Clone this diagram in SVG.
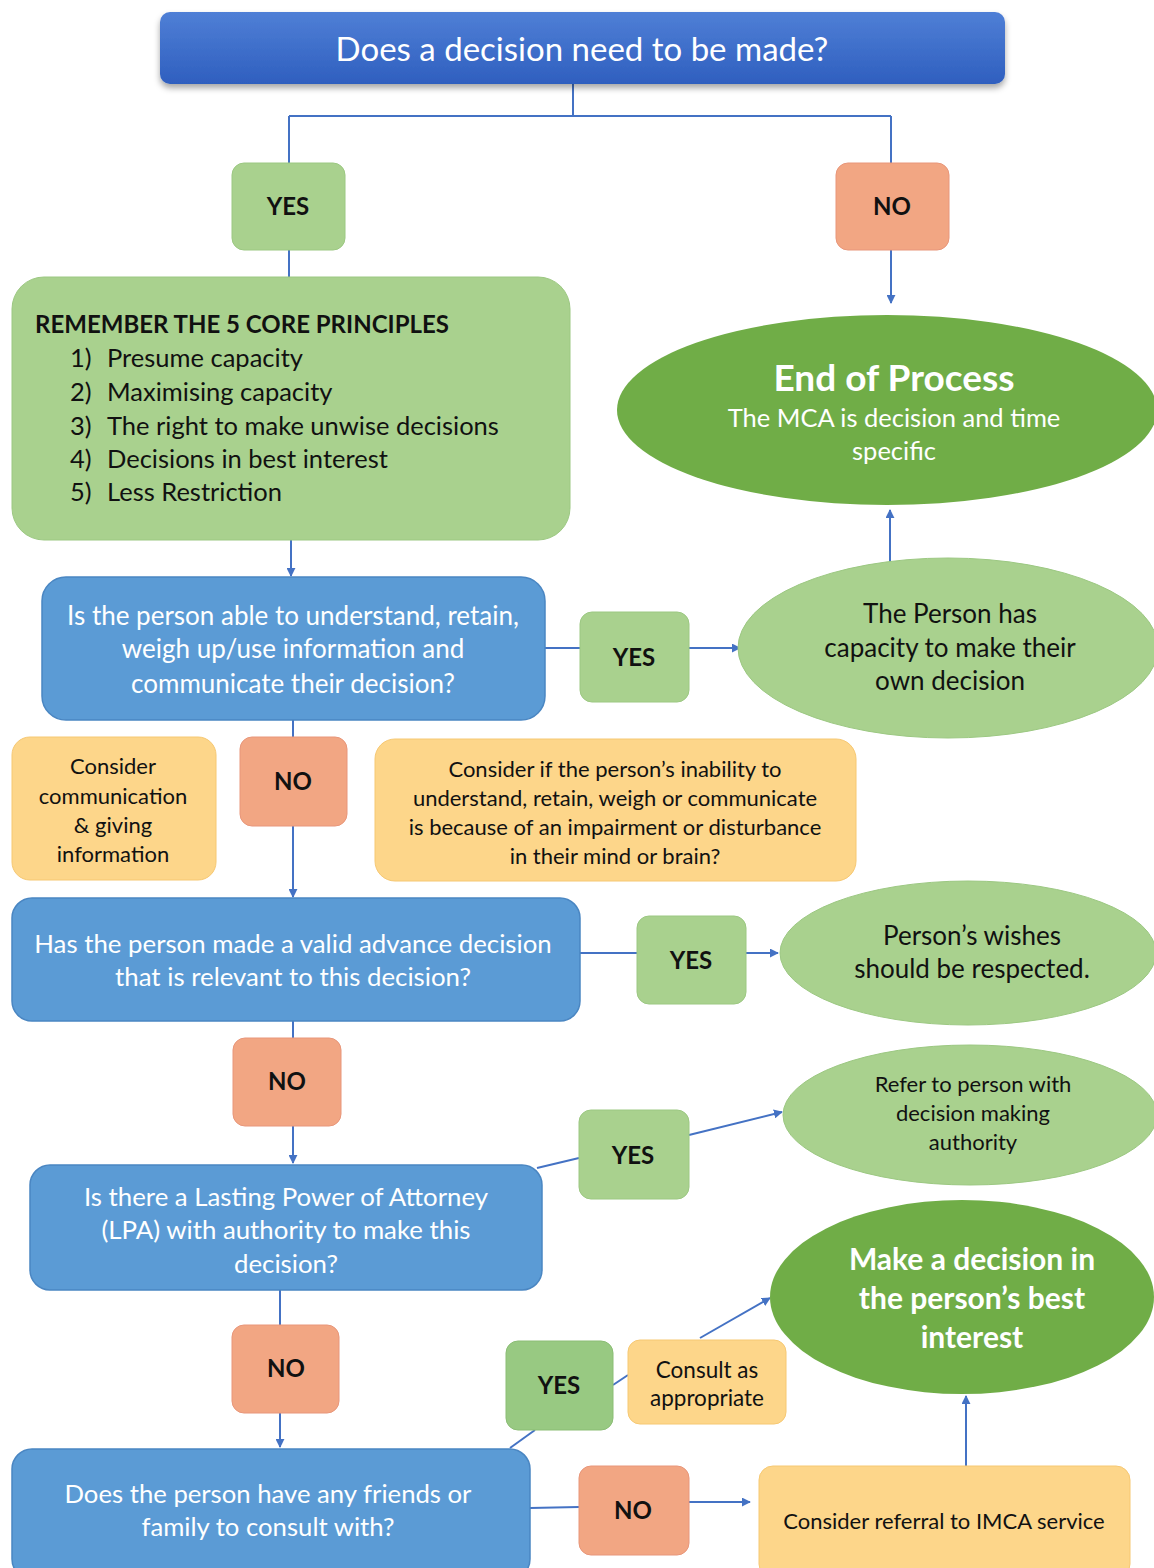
<svg xmlns="http://www.w3.org/2000/svg" width="1154" height="1568" viewBox="0 0 1154 1568">
<defs>
<linearGradient id="topg" x1="0" y1="0" x2="0" y2="1">
<stop offset="0" stop-color="#4f7fd6"/>
<stop offset="1" stop-color="#2f5fbf"/>
</linearGradient>
<filter id="sh" x="-5%" y="-20%" width="110%" height="150%">
<feDropShadow dx="0" dy="4" stdDeviation="3" flood-color="#000" flood-opacity="0.35"/>
</filter>
<marker id="ar" viewBox="0 0 10 10" refX="9" refY="5" markerWidth="9" markerHeight="9" markerUnits="userSpaceOnUse" orient="auto">
<path d="M0,0 L10,5 L0,10 z" fill="#4472c4"/>
</marker>
</defs>
<style>
text{font-family:Lato,"Open Sans","Liberation Sans",sans-serif}
.blue{fill:#5b9bd5;stroke:#4a86c2;stroke-width:1.5}
.lg{fill:#a9d18e;stroke:#9cc882;stroke-width:1}
.dg{fill:#70ad47}
.no{fill:#f2a683;stroke:#e8967a;stroke-width:1}
.yl{fill:#fdd68a;stroke:#f6c873;stroke-width:1}
.wt{fill:#fff;text-anchor:middle}
.bk{fill:#111;text-anchor:middle}
.lbl{font-weight:bold;font-size:24px;fill:#111;text-anchor:middle}
.c{fill:none;stroke:#4472c4;stroke-width:2}
</style>
<g id="connectors">
<path class="c" d="M573,84 V116 M289,116 H891 M289,116 V163 M891,116 V163"/>
<path class="c" d="M289,250 V277"/>
<path class="c" d="M891,250 V303" marker-end="url(#ar)"/>
<path class="c" d="M291,540 V576" marker-end="url(#ar)"/>
<path class="c" d="M545,648 H580"/>
<path class="c" d="M689,648 H740" marker-end="url(#ar)"/>
<path class="c" d="M890,562 V510" marker-end="url(#ar)"/>
<path class="c" d="M293,720 V737 M293,826 V897" marker-end="url(#ar)"/>
<path class="c" d="M580,953 H637"/>
<path class="c" d="M746,953 H778" marker-end="url(#ar)"/>
<path class="c" d="M293,1021 V1038"/>
<path class="c" d="M293,1126 V1163" marker-end="url(#ar)"/>
<path class="c" d="M537,1168 L579,1158"/>
<path class="c" d="M689,1135 L782,1112" marker-end="url(#ar)"/>
<path class="c" d="M280,1290 V1325"/>
<path class="c" d="M280,1413 V1447" marker-end="url(#ar)"/>
<path class="c" d="M510,1448 L535,1430"/>
<path class="c" d="M613,1385 L628,1375"/>
<path class="c" d="M700,1338 L770,1298" marker-end="url(#ar)"/>
<path class="c" d="M530,1508 L579,1507"/>
<path class="c" d="M689,1502 H750" marker-end="url(#ar)"/>
<path class="c" d="M966,1466 V1396" marker-end="url(#ar)"/>
</g>
<g id="n-top">
<rect x="160" y="12" width="845" height="72" rx="10" fill="url(#topg)" filter="url(#sh)"/>
<text class="wt" x="582" y="61" font-size="33">Does a decision need to be made?</text>
</g>
<g id="n-yes1">
<rect class="lg" x="232" y="163" width="113" height="87" rx="12"/>
<text class="lbl" x="288" y="215">YES</text>
</g>
<g id="n-no1">
<rect class="no" x="836" y="163" width="113" height="87" rx="12"/>
<text class="lbl" x="892" y="215">NO</text>
</g>
<g id="n-principles">
<rect class="lg" x="12" y="277" width="558" height="263" rx="32"/>
<text x="35" y="333" font-size="24" font-weight="bold" fill="#111">REMEMBER THE 5 CORE PRINCIPLES</text>
<g font-size="25.5" fill="#111">
<text x="70" y="367">1)</text><text x="107" y="367">Presume capacity</text>
<text x="70" y="401">2)</text><text x="107" y="401">Maximising capacity</text>
<text x="70" y="435">3)</text><text x="107" y="435">The right to make unwise decisions</text>
<text x="70" y="468">4)</text><text x="107" y="468">Decisions in best interest</text>
<text x="70" y="501">5)</text><text x="107" y="501">Less Restriction</text>
</g>
</g>
<g id="n-end">
<ellipse class="dg" cx="887" cy="410" rx="270" ry="95"/>
<text class="wt" x="894" y="391" font-size="37" font-weight="bold">End of Process</text>
<text class="wt" x="894" y="427" font-size="25.5">The MCA is decision and time</text>
<text class="wt" x="894" y="460" font-size="25.5">specific</text>
</g>
<g id="n-q1">
<rect class="blue" x="42" y="577" width="503" height="143" rx="24"/>
<text class="wt" x="293" y="625" font-size="26">Is the person able to understand, retain,</text>
<text class="wt" x="293" y="658" font-size="26">weigh up/use information and</text>
<text class="wt" x="293" y="693" font-size="26">communicate their decision?</text>
</g>
<g id="n-yes2">
<rect class="lg" x="580" y="612" width="109" height="90" rx="12"/>
<text class="lbl" x="634" y="666" font-size="21">YES</text>
</g>
<g id="n-capacity">
<ellipse class="lg" cx="948" cy="648" rx="210" ry="90"/>
<text class="bk" x="950" y="623" font-size="26">The Person has</text>
<text class="bk" x="950" y="657" font-size="26">capacity to make their</text>
<text class="bk" x="950" y="690" font-size="26">own decision</text>
</g>
<g id="n-comm">
<rect class="yl" x="12" y="737" width="204" height="143" rx="18"/>
<text class="bk" x="113" y="774" font-size="22">Consider</text>
<text class="bk" x="113" y="804" font-size="22">communication</text>
<text class="bk" x="113" y="833" font-size="22">&amp; giving</text>
<text class="bk" x="113" y="862" font-size="22">information</text>
</g>
<g id="n-no2">
<rect class="no" x="240" y="737" width="107" height="89" rx="12"/>
<text class="lbl" x="293" y="790">NO</text>
</g>
<g id="n-impair">
<rect class="yl" x="375" y="739" width="481" height="142" rx="20"/>
<text class="bk" x="615" y="777" font-size="22">Consider if the person’s inability to</text>
<text class="bk" x="615" y="806" font-size="22">understand, retain, weigh or communicate</text>
<text class="bk" x="615" y="835" font-size="22">is because of an impairment or disturbance</text>
<text class="bk" x="615" y="864" font-size="22">in their mind or brain?</text>
</g>
<g id="n-q2">
<rect class="blue" x="12" y="898" width="568" height="123" rx="20"/>
<text class="wt" x="293" y="953" font-size="25.8">Has the person made a valid advance decision</text>
<text class="wt" x="293" y="986" font-size="25.8">that is relevant to this decision?</text>
</g>
<g id="n-yes3">
<rect class="lg" x="637" y="916" width="109" height="88" rx="12"/>
<text class="lbl" x="691" y="969">YES</text>
</g>
<g id="n-wishes">
<ellipse class="lg" cx="968" cy="953" rx="188" ry="72"/>
<text class="bk" x="972" y="945" font-size="26">Person’s wishes</text>
<text class="bk" x="972" y="978" font-size="26">should be respected.</text>
</g>
<g id="n-no3">
<rect class="no" x="233" y="1038" width="108" height="88" rx="12"/>
<text class="lbl" x="287" y="1090" font-size="21">NO</text>
</g>
<g id="n-q3">
<rect class="blue" x="30" y="1165" width="512" height="125" rx="20"/>
<text class="wt" x="286" y="1206" font-size="25.8">Is there a Lasting Power of Attorney</text>
<text class="wt" x="286" y="1239" font-size="25.8">(LPA) with authority to make this</text>
<text class="wt" x="286" y="1273" font-size="25.8">decision?</text>
</g>
<g id="n-yes4">
<rect class="lg" x="579" y="1110" width="110" height="89" rx="12"/>
<text class="lbl" x="633" y="1164">YES</text>
</g>
<g id="n-refer">
<ellipse class="lg" cx="970" cy="1115" rx="187" ry="70"/>
<text class="bk" x="973" y="1092" font-size="22">Refer to person with</text>
<text class="bk" x="973" y="1121" font-size="22">decision making</text>
<text class="bk" x="973" y="1150" font-size="22">authority</text>
</g>
<g id="n-best">
<ellipse class="dg" cx="962" cy="1297" rx="192" ry="97"/>
<text class="wt" x="972" y="1270" font-size="30" font-weight="bold">Make a decision in</text>
<text class="wt" x="972" y="1309" font-size="30" font-weight="bold">the person’s best</text>
<text class="wt" x="972" y="1348" font-size="30" font-weight="bold">interest</text>
</g>
<g id="n-no4">
<rect class="no" x="232" y="1325" width="107" height="88" rx="12"/>
<text class="lbl" x="286" y="1377" font-size="21">NO</text>
</g>
<g id="n-q4">
<rect class="blue" x="12" y="1449" width="518" height="130" rx="20"/>
<text class="wt" x="268" y="1503" font-size="25.7">Does the person have any friends or</text>
<text class="wt" x="268" y="1536" font-size="25.7">family to consult with?</text>
</g>
<g id="n-yes5">
<rect x="506" y="1341" width="107" height="89" rx="12" fill="#98c982" stroke="#8bbd75"/>
<text class="lbl" x="559" y="1394">YES</text>
</g>
<g id="n-consult">
<rect class="yl" x="628" y="1340" width="158" height="84" rx="12"/>
<text class="bk" x="707" y="1378" font-size="22.5">Consult as</text>
<text class="bk" x="707" y="1406" font-size="22.5">appropriate</text>
</g>
<g id="n-no5">
<rect class="no" x="579" y="1466" width="110" height="89" rx="12"/>
<text class="lbl" x="633" y="1519">NO</text>
</g>
<g id="n-imca">
<rect class="yl" x="759" y="1466" width="371" height="112" rx="14"/>
<text class="bk" x="944" y="1529" font-size="22">Consider referral to IMCA service</text>
</g>
</svg>
